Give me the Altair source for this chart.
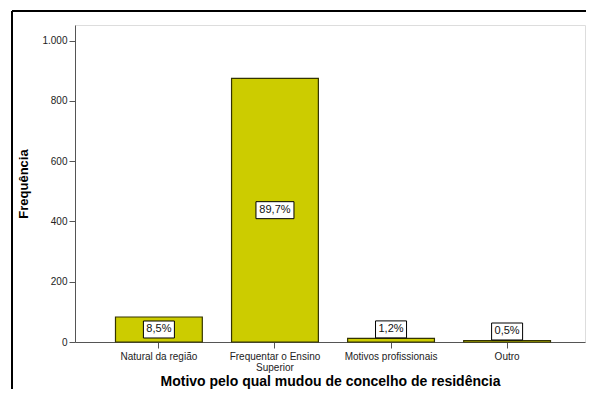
import altair as alt
import pandas as pd

categories = ["Natural da região", "Frequentar o Ensino Superior", "Motivos profissionais", "Outro"]
counts = [83, 875, 12, 5]
percent_labels = ["8,5%", "89,7%", "1,2%", "0,5%"]

df = pd.DataFrame({"motivo": categories, "freq": counts, "pct": percent_labels})

FONT = "Liberation Sans"

x_enc = alt.X(
    "motivo:N",
    sort=categories,
    scale=alt.Scale(paddingInner=0.252, paddingOuter=0.323, align=0.54),
    axis=alt.Axis(
        title="Motivo pelo qual mudou de concelho de residência",
        labelAngle=0,
        labelFont=FONT,
        labelFontSize=10,
        labelColor="#222",
        labelPadding=3,
        labelLineHeight=11,
        labelExpr="datum.label == 'Frequentar o Ensino Superior' ? ['Frequentar o Ensino', 'Superior'] : datum.label",
        tickSize=6,
        tickColor="#555",
        domainColor="#555",
        titleFont=FONT,
        titleFontSize=14,
        titleFontWeight="bold",
        titleColor="#000",
        titleBaseline="alphabetic",
        titleY=43,
    ),
)

y_scale = alt.Scale(domain=[0, 1052], nice=False)
y_axis = alt.Axis(
    title="Frequência",
    values=[0, 200, 400, 600, 800, 1000],
    labelExpr="replace(format(datum.value, ','), ',', '.')",
    labelFont=FONT,
    labelFontSize=10,
    labelColor="#222",
    tickSize=6,
    tickColor="#555",
    domainColor="#555",
    grid=False,
    titleFont=FONT,
    titleFontSize=13,
    titleFontWeight="bold",
    titleColor="#000",
    titlePadding=11,
)

bars = alt.Chart(df).mark_bar(color="#CCCC00", stroke="#333300", strokeWidth=1.2).encode(
    x=x_enc,
    y=alt.Y("freq:Q", scale=y_scale, axis=y_axis),
)

BOX4 = "M-0.816,-0.447L0.816,-0.447L0.816,0.447L-0.816,0.447Z"
BOX5 = "M-1,-0.447L1,-0.447L1,0.447L-1,0.447Z"
shape_enc = alt.Shape(
    "pct:N",
    scale=alt.Scale(domain=percent_labels, range=[BOX4, BOX5, BOX4, BOX4]),
    legend=None,
)

big = alt.Chart(df).transform_filter("datum.freq > 50").transform_calculate(mid="datum.freq / 2")
small = alt.Chart(df).transform_filter("datum.freq <= 50")

box_style = dict(size=1444, filled=True, fill="white", stroke="black", strokeWidth=1, opacity=1)

big_box = big.mark_point(**box_style).encode(
    x=alt.X("motivo:N", sort=categories), y=alt.Y("mid:Q", scale=y_scale), shape=shape_enc
)
big_txt = big.mark_text(font=FONT, fontSize=11, color="#111", baseline="middle").encode(
    x=alt.X("motivo:N", sort=categories), y=alt.Y("mid:Q", scale=y_scale), text="pct:N"
)
small_box = small.mark_point(yOffset=-9, **box_style).encode(
    x=alt.X("motivo:N", sort=categories), y=alt.Y("freq:Q", scale=y_scale), shape=shape_enc
)
small_txt = small.mark_text(font=FONT, fontSize=11, color="#111", baseline="middle", yOffset=-9).encode(
    x=alt.X("motivo:N", sort=categories), y=alt.Y("freq:Q", scale=y_scale), text="pct:N"
)

frame_top = alt.Chart(df).mark_rule(color="black", strokeWidth=2).encode(
    x=alt.value(-63), x2=alt.value(530), y=alt.value(-14)
)
frame_left = alt.Chart(df).mark_rule(color="black", strokeWidth=2).encode(
    x=alt.value(-63), y=alt.value(-14), y2=alt.value(400)
)

chart = alt.layer(bars, big_box, big_txt, small_box, small_txt, frame_top, frame_left).properties(
    width=510,
    height=317,
    autosize=alt.AutoSizeParams(type="none"),
    padding={"left": 67, "top": 17, "right": 1, "bottom": 47},
).configure_view(stroke="#999", strokeWidth=1.5).configure(background="white")

chart.save("out.html", embed_options={"renderer": "svg", "actions": False})
